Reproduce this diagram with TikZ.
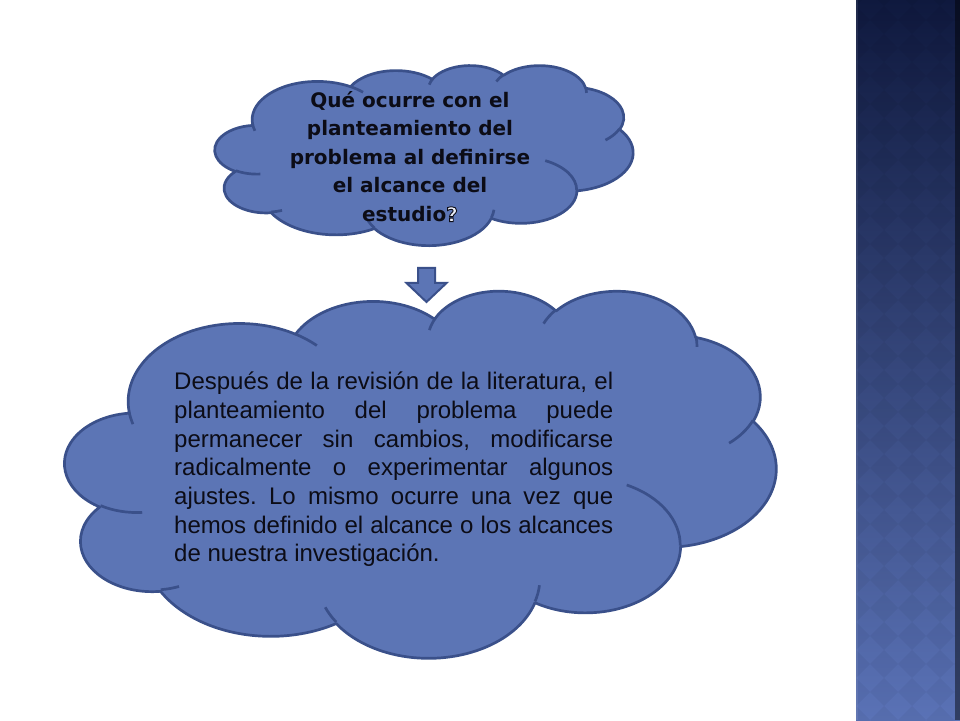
\documentclass[tikz,border=0pt]{standalone}
\usepackage{fontspec}
\setmainfont{Liberation Sans}
\newfontfamily\qfont{DejaVu Sans}
\definecolor{cloudfill}{RGB}{92,117,181}
\definecolor{cloudline}{RGB}{58,80,138}
\definecolor{stripTop}{RGB}{15,25,62}
\definecolor{stripMid}{RGB}{44,63,118}
\definecolor{stripBot}{RGB}{90,114,182}
\definecolor{txt}{RGB}{12,12,22}
\definecolor{qwhite}{RGB}{235,238,248}

\newcommand\csx{1}\newcommand\csy{1}
\newcommand\cxo{0}\newcommand\cyo{0}
\newcommand\cpt[2]{\pgfpoint{\cxo pt + #1*\csx pt}{\cyo pt - #2*\csy pt}}
\newcommand\pptarc[4]{%
  \pgfmathsetmacro\zzA{#1*\csx}%
  \pgfmathsetmacro\zzB{#2*\csy}%
  \pgfmathsetmacro\zzS{atan2(#1*sin(#3),#2*cos(#3))}%
  \pgfmathsetmacro\zzE{atan2(#1*sin(#3+#4),#2*cos(#3+#4))}%
  \pgfmathsetmacro\zzD{mod(\zzE-\zzS+720,360)}%
  \pgfmathsetmacro\zzP{-\zzS}%
  \pgfmathsetmacro\zzQ{-\zzS-\zzD}%
  \pgfpatharc{\zzP}{\zzQ}{\zzA pt and \zzB pt}%
}
\newcommand\cloudat[4]{%
  \def\cxo{#1}\pgfmathsetmacro\cyo{720-#2}%
  \pgfmathsetmacro\csx{#3/432}\pgfmathsetmacro\csy{#4/432}%
  \begin{pgfscope}
  \pgfsetfillcolor{cloudfill}\pgfsetstrokecolor{cloudline}%
  \pgfsetlinewidth{2.7pt}\pgfsetroundjoin
  \pgfpathmoveto{\cpt{39.00}{143.70}}%
  \pptarc{67.53}{91.90}{-190.4875}{123.7805}%
  \pptarc{53.33}{72.67}{-144.1024}{89.9452}%
  \pptarc{43.65}{59.45}{-145.8079}{99.7230}%
  \pptarc{48.57}{65.95}{-130.9861}{117.2417}%
  \pptarc{53.33}{72.73}{-78.7089}{109.0269}%
  \pptarc{67.75}{92.20}{-46.2673}{130.2690}%
  \pptarc{57.85}{78.67}{0.6250}{114.0333}%
  \pptarc{67.52}{92.15}{22.4516}{115.1726}%
  \pptarc{77.20}{105.43}{66.2426}{75.7110}%
  \pptarc{43.60}{59.18}{-274.9421}{146.7356}%
  \pptarc{43.45}{59.45}{-246.8285}{152.5189}%
  \pgfpathclose
  \pgfusepath{fill,stroke}%
  \pgfpathmoveto{\cpt{46.93}{261.77}}\pptarc{43.45}{59.45}{86.7420}{26.4295}%
  \pgfpathmoveto{\cpt{69.28}{348.99}}\pptarc{43.60}{59.18}{73.6105}{11.4475}%
  \pgfpathmoveto{\cpt{164.78}{390.90}}\pptarc{67.52}{92.15}{137.6242}{14.0811}%
  \pgfpathmoveto{\cpt{288.27}{347.51}}\pptarc{67.52}{92.15}{6.4533}{15.9984}%
  \pgfpathmoveto{\cpt{341.29}{229.54}}\pptarc{57.85}{78.67}{-70.2924}{70.9174}%
  \pgfpathmoveto{\cpt{417.98}{153.54}}\pptarc{53.33}{72.73}{30.3180}{27.7515}%
  \pgfpathmoveto{\cpt{383.24}{54.26}}\pptarc{48.57}{65.95}{-13.7443}{14.8589}%
  \pgfpathmoveto{\cpt{290.78}{39.52}}\pptarc{48.57}{65.95}{-149.1815}{18.1954}%
  \pgfpathmoveto{\cpt{221.41}{47.20}}\pptarc{43.65}{59.45}{-163.4943}{17.6864}%
  \pgfpathmoveto{\cpt{140.00}{51.92}}\pptarc{67.53}{91.90}{-66.7070}{12.3194}%
  \pgfpathmoveto{\cpt{41.27}{157.89}}\pptarc{67.53}{91.90}{157.6544}{11.8582}%
  \pgfusepath{stroke}%
  \end{pgfscope}%
}
% white question mark with a dark outline (text render mode 2: fill and stroke)
\newcommand\outq{{\color{qwhite}\special{pdf:literal direct 0.047 0.047 0.086 RG 0.9 w 2 Tr}?\special{pdf:literal direct 0 Tr}}}
\newcommand\jl[1]{\makebox[439pt][s]{#1}}
\frenchspacing

\begin{document}
\begin{tikzpicture}[x=1pt,y=1pt]
\useasboundingbox (0,0) rectangle (960,720);
\fill[white] (0,0) rectangle (960,720);
% right strip
\shade[top color=stripTop, middle color=stripMid, bottom color=stripBot] (856,0) rectangle (960,720);
\begin{scope}
\clip (856,0) rectangle (955,720);
\foreach \i in {0,...,4}{
  \foreach \j in {0,...,26}{
    \fill[black, opacity=0.04] (856+28*\i-14,28*\j) -- (856+28*\i,28*\j+14) -- (856+28*\i+14,28*\j) -- (856+28*\i,28*\j-14) -- cycle;
  }
}
\end{scope}
\fill[black, opacity=0.45] (955,0) rectangle (960,720);
\fill[white, opacity=0.08] (856,0) rectangle (858,720);
% clouds
\cloudat{215}{65}{418}{180}
\cloudat{65}{290}{711}{367}
% arrow
\draw[cloudline, fill=cloudfill, line width=2pt, line join=miter]
  (418,452) -- (418,437) -- (406.5,437) -- (426.5,418) -- (446.5,437) -- (435,437) -- (435,452) -- cycle;
% texts
\node[anchor=north, inner sep=0, align=center, text=txt,
      font=\qfont\bfseries\fontsize{20}{28.6}\selectfont] (qtext) at (410,633)
  {\rule{0pt}{20pt}Qué ocurre con el\\planteamiento del\\problema al definirse\\el alcance del\\estudio\outq};
\node[anchor=north west, inner sep=0, align=left, text=txt,
      font=\fontsize{24}{28.7}\selectfont] (atext) at (174,354.5)
  {\rule{0pt}{24pt}\jl{Después de la revisión de la literatura, el}\\\jl{planteamiento del problema puede}\\\jl{permanecer sin cambios, modificarse}\\\jl{radicalmente o experimentar algunos}\\\jl{ajustes. Lo mismo ocurre una vez que}\\\jl{hemos definido el alcance o los alcances}\\de nuestra investigación.};
\end{tikzpicture}
\end{document}
